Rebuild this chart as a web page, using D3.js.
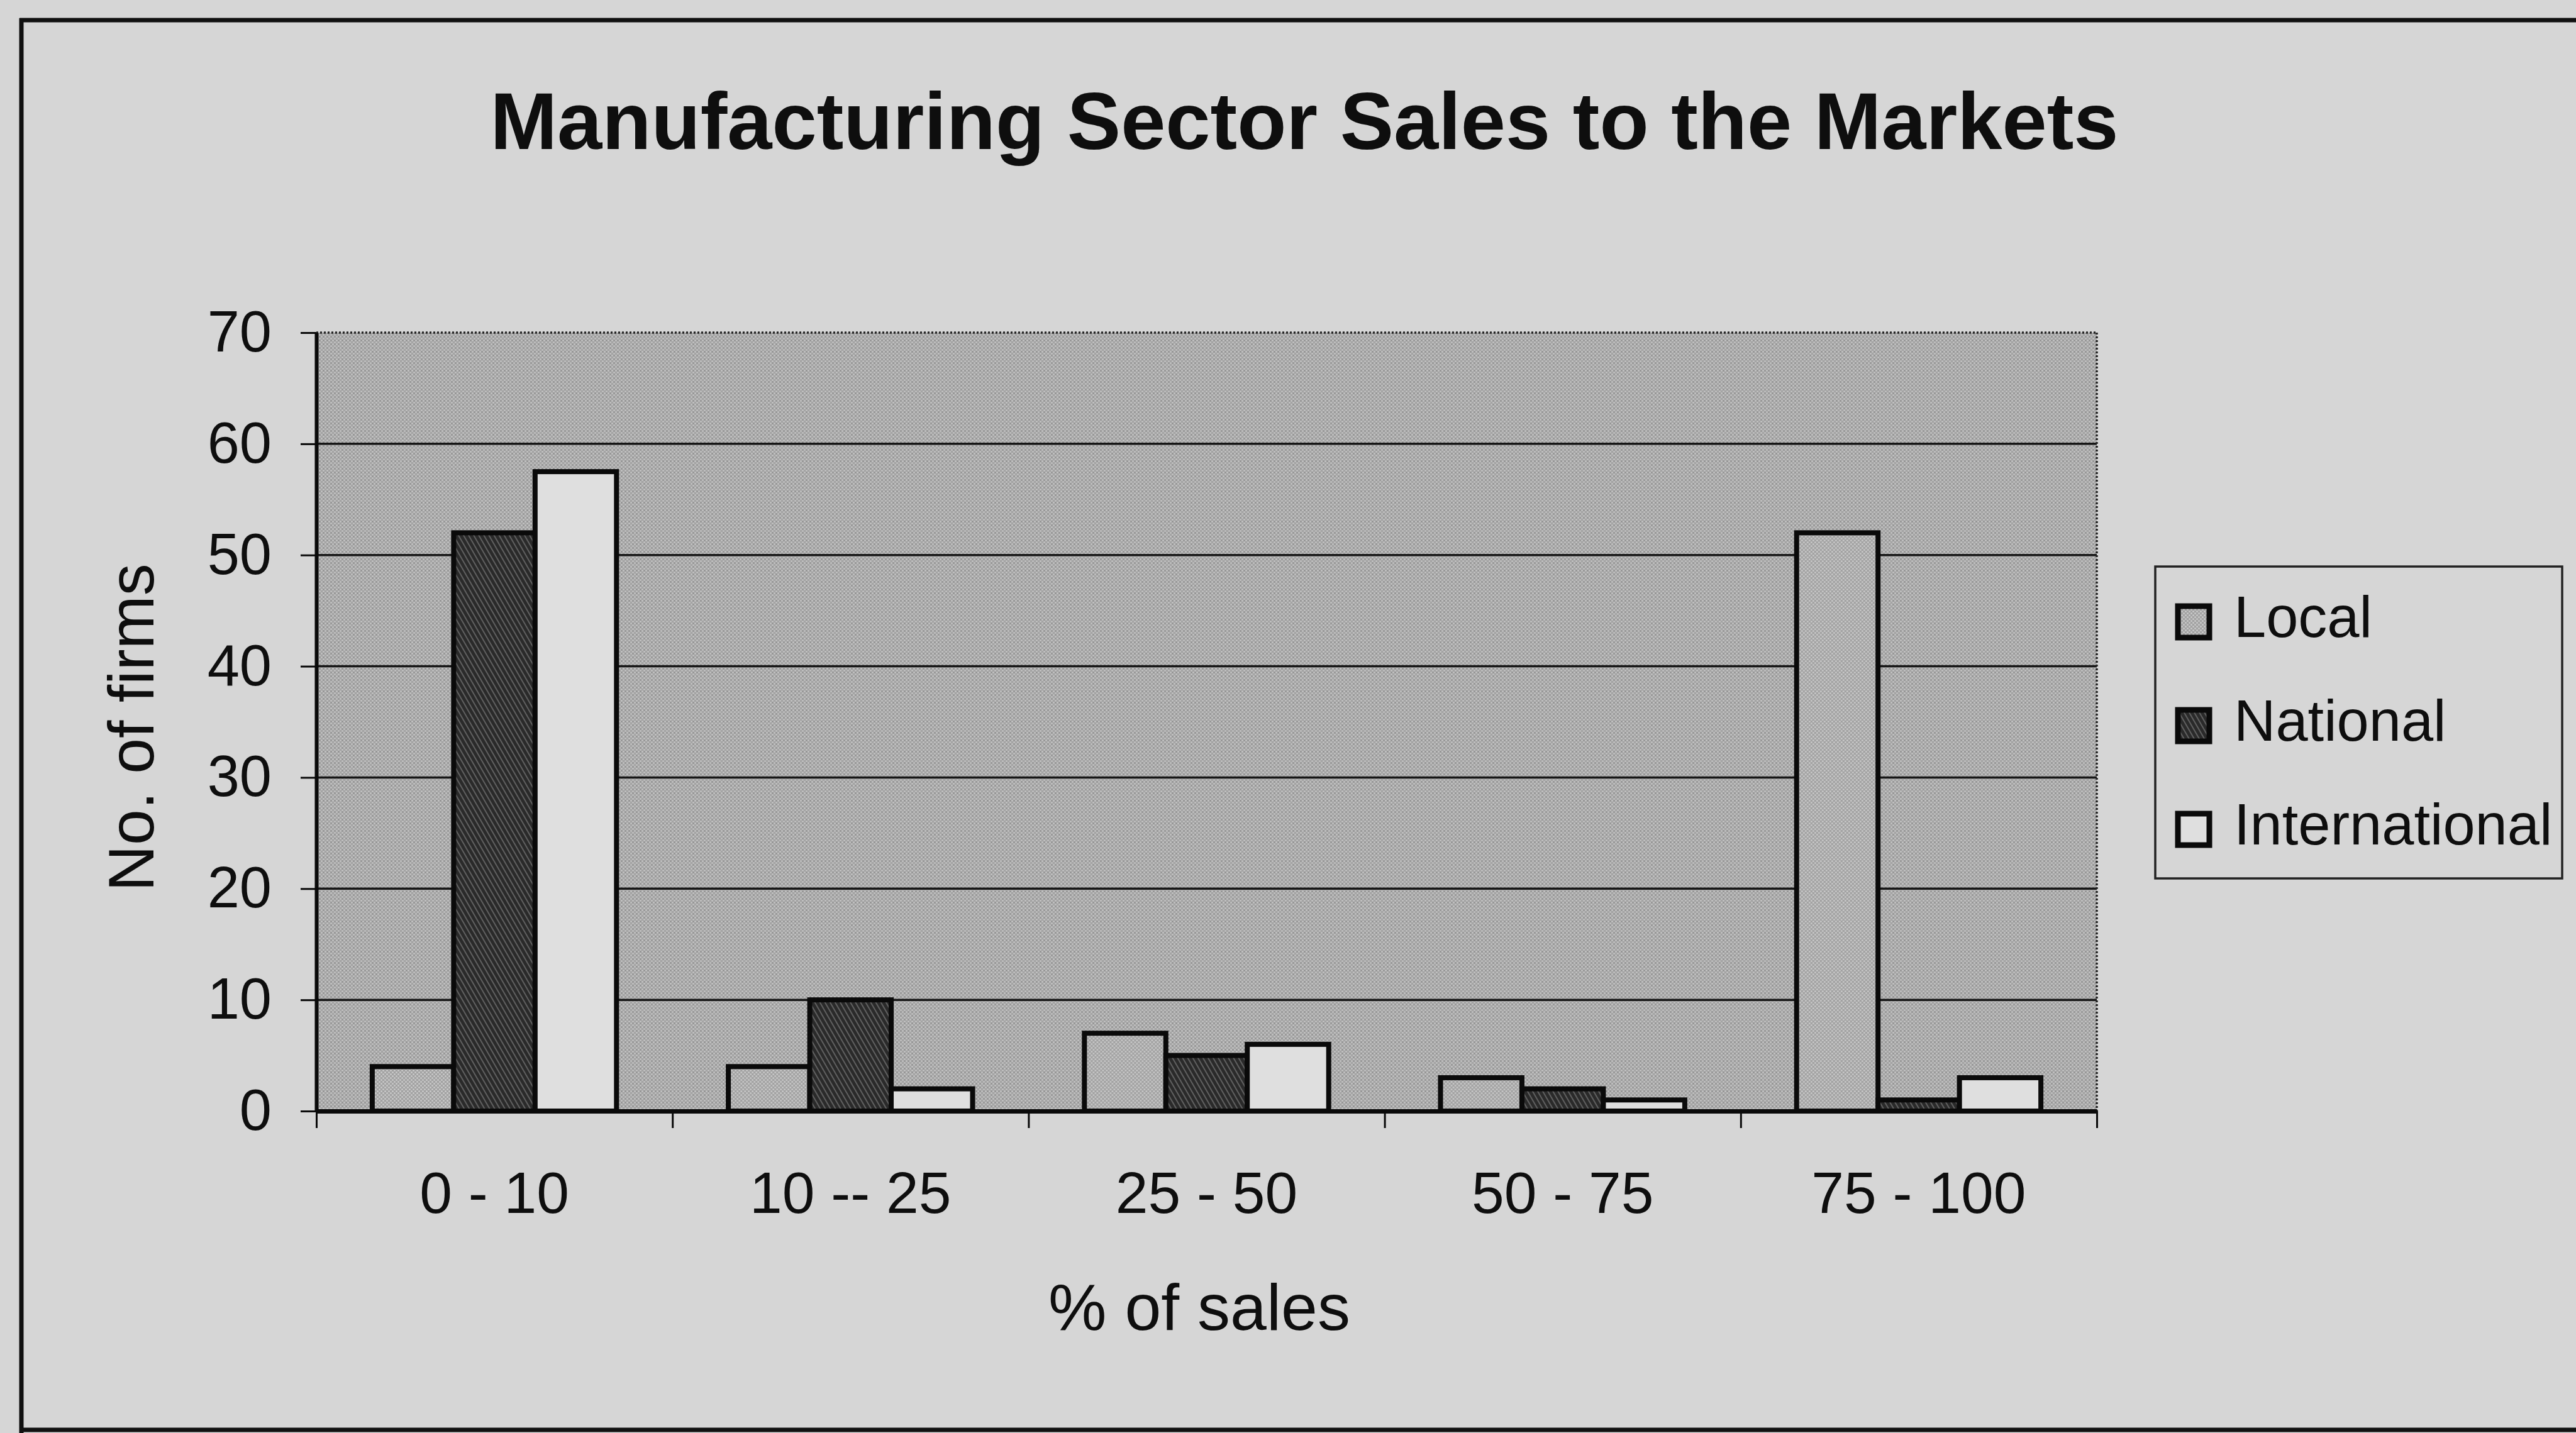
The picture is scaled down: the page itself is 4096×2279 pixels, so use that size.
<!DOCTYPE html>
<html>
<head>
<meta charset="utf-8">
<script src="https://cdn.jsdelivr.net/npm/d3@7"></script>
<style>
  html, body { margin: 0; padding: 0; background: #d6d6d6; }
  svg { display: block; }
  text { font-family: "Liberation Sans", Arial, Helvetica, sans-serif; fill: #0e0e0e; }
</style>
</head>
<body>
<svg id="chart" width="4096" height="2279"></svg>
<script>
// Share-of-sales bands and the number of firms in each, by market
const categories = ["0 - 10", "10 -- 25", "25 - 50", "50 - 75", "75 - 100"];
const seriesNames = ["Local", "National", "International"];
const localValues = [4, 4, 7, 3, 52];
const nationalValues = [52, 10, 5, 2, 1];
const internationalValues = [57.5, 2, 6, 1, 3];
const yTicks = [0, 10, 20, 30, 40, 50, 60, 70];

const chartTitle = "Manufacturing Sector Sales to the Markets";
const xTitle = "% of sales";
const yTitle = "No. of firms";

const W = 4096, H = 2279;
const plot = { left: 503, right: 3334, top: 529, bottom: 1767 };

const svg = d3.select("#chart");
const defs = svg.append("defs");

// Fine halftone for the plot wall
const wall = defs.append("pattern").attr("id", "wall")
  .attr("width", 6).attr("height", 6).attr("patternUnits", "userSpaceOnUse");
wall.append("rect").attr("width", 6).attr("height", 6).attr("fill", "#a4a4a4");
wall.append("circle").attr("cx", 1.5).attr("cy", 1.5).attr("r", 1.3).attr("fill", "#c8c8c8");
wall.append("circle").attr("cx", 4.5).attr("cy", 4.5).attr("r", 1.3).attr("fill", "#c8c8c8");
wall.append("circle").attr("cx", 4.5).attr("cy", 1.5).attr("r", 0.9).attr("fill", "#8a8a8a");

// Dotted fill for Local
const dots = defs.append("pattern").attr("id", "localFill")
  .attr("width", 6).attr("height", 6).attr("patternUnits", "userSpaceOnUse");
dots.append("rect").attr("width", 6).attr("height", 6).attr("fill", "#a2a2a2");
dots.append("circle").attr("cx", 1.5).attr("cy", 1.5).attr("r", 1.5).attr("fill", "#c9c9c9");
dots.append("circle").attr("cx", 4.5).attr("cy", 4.5).attr("r", 1.5).attr("fill", "#c9c9c9");

// Dark diagonal hatch for National
const hatch = defs.append("pattern").attr("id", "nationalFill")
  .attr("width", 7).attr("height", 7).attr("patternUnits", "userSpaceOnUse")
  .attr("patternTransform", "rotate(-30)");
hatch.append("rect").attr("width", 7).attr("height", 7).attr("fill", "#2a2a2a");
hatch.append("rect").attr("x", 0).attr("y", 0).attr("width", 2).attr("height", 7).attr("fill", "#606060");

const fills = { Local: "url(#localFill)", National: "url(#nationalFill)", International: "#dfdfdf" };

// Scales
const x0 = d3.scaleBand().domain(categories).range([plot.left, plot.right]).padding(0);
const bw = x0.bandwidth();
const x1 = d3.scaleBand().domain(seriesNames).range([bw * 0.157, bw * 0.843]).padding(0);
const y = d3.scaleLinear().domain([0, 70]).range([plot.bottom, plot.top]);
const xEdges = d3.scaleLinear().domain([0, categories.length]).range([plot.left, plot.right]);

// Outer frame
const frame = svg.append("g").attr("stroke", "#111").attr("stroke-width", 7).attr("fill", "none");
frame.append("line").attr("x1", 31).attr("x2", W).attr("y1", 32).attr("y2", 32);
frame.append("line").attr("x1", 34).attr("x2", 34).attr("y1", 29).attr("y2", 2279);
frame.append("line").attr("x1", 31).attr("x2", W).attr("y1", 2274).attr("y2", 2274);

// Title
svg.append("text")
  .attr("x", 2074).attr("y", 237)
  .attr("text-anchor", "middle")
  .attr("font-size", 128).attr("font-weight", "bold")
  .text(chartTitle);

// Plot wall
svg.append("rect")
  .attr("x", plot.left).attr("y", plot.top)
  .attr("width", plot.right - plot.left).attr("height", plot.bottom - plot.top)
  .attr("fill", "url(#wall)");

// Gridlines
svg.append("g").selectAll("line")
  .data(yTicks.filter(v => v > 0 && v < 70))
  .join("line")
  .attr("x1", plot.left).attr("x2", plot.right)
  .attr("y1", d => y(d)).attr("y2", d => y(d))
  .attr("stroke", "#161616").attr("stroke-width", 3.5);

// Dotted top and right edges of the wall
const edge = svg.append("g").attr("stroke", "#222").attr("stroke-width", 3.5)
  .attr("stroke-dasharray", "3,3").attr("fill", "none");
edge.append("line").attr("x1", plot.left).attr("x2", plot.right).attr("y1", y(70)).attr("y2", y(70));
edge.append("line").attr("x1", plot.right).attr("x2", plot.right).attr("y1", y(70)).attr("y2", plot.bottom);

// Bars
const rows = categories.map((c, i) => ({
  category: c,
  values: [
    { key: "Local", value: localValues[i] },
    { key: "National", value: nationalValues[i] },
    { key: "International", value: internationalValues[i] }
  ]
}));

svg.append("g").selectAll("g")
  .data(rows)
  .join("g")
  .attr("transform", d => `translate(${x0(d.category)},0)`)
  .selectAll("rect")
  .data(d => d.values)
  .join("rect")
  .attr("x", d => x1(d.key))
  .attr("width", x1.bandwidth())
  .attr("y", d => y(d.value))
  .attr("height", d => y(0) - y(d.value))
  .attr("fill", d => fills[d.key])
  .attr("stroke", "#0a0a0a")
  .attr("stroke-width", 8);

// Y axis
const yAxis = svg.append("g")
  .attr("transform", `translate(${plot.left},0)`)
  .call(d3.axisLeft(y).tickValues(yTicks).tickSize(25).tickSizeOuter(0).tickPadding(46));
yAxis.select(".domain").attr("stroke", "#0a0a0a").attr("stroke-width", 6);
yAxis.selectAll(".tick line").attr("stroke", "#0a0a0a").attr("stroke-width", 3);
yAxis.selectAll(".tick text")
  .attr("font-size", 92).attr("font-family", "Liberation Sans, Arial, sans-serif").attr("fill", "#0e0e0e");

// X axis: tick marks at the band edges
const xTickAxis = svg.append("g")
  .attr("transform", `translate(0,${plot.bottom})`)
  .call(d3.axisBottom(xEdges).tickValues(d3.range(categories.length + 1)).tickFormat("").tickSize(27).tickSizeOuter(0));
xTickAxis.select(".domain").attr("stroke", "#0a0a0a").attr("stroke-width", 7);
xTickAxis.selectAll(".tick line").attr("stroke", "#0a0a0a").attr("stroke-width", 3);

// X axis: category labels centred in each band
const xLabelAxis = svg.append("g")
  .attr("transform", `translate(0,${plot.bottom})`)
  .call(d3.axisBottom(x0).tickSize(0).tickPadding(96));
xLabelAxis.select(".domain").remove();
xLabelAxis.selectAll(".tick text")
  .attr("font-size", 93).attr("font-family", "Liberation Sans, Arial, sans-serif").attr("fill", "#0e0e0e");

// Axis titles
svg.append("text")
  .attr("x", 1907).attr("y", 2115)
  .attr("text-anchor", "middle")
  .attr("font-size", 104)
  .text(xTitle);

svg.append("text")
  .attr("transform", "translate(244,1157) rotate(-90)")
  .attr("text-anchor", "middle")
  .attr("font-size", 102)
  .text(yTitle);

// Legend
const legend = svg.append("g");
legend.append("rect")
  .attr("x", 3427).attr("y", 901).attr("width", 647).attr("height", 496)
  .attr("fill", "none").attr("stroke", "#222").attr("stroke-width", 3.5);

const legendY = d3.scalePoint().domain(seriesNames).range([989, 1319]);
const item = legend.selectAll("g.item")
  .data(seriesNames)
  .join("g").attr("class", "item")
  .attr("transform", d => `translate(0,${legendY(d)})`);
item.append("rect")
  .attr("x", 3463).attr("y", -25).attr("width", 50).attr("height", 50)
  .attr("fill", d => fills[d]).attr("stroke", "#0a0a0a").attr("stroke-width", 9);
item.append("text")
  .attr("x", 3552).attr("y", 24)
  .attr("font-size", 92)
  .text(d => d);
</script>
</body>
</html>
